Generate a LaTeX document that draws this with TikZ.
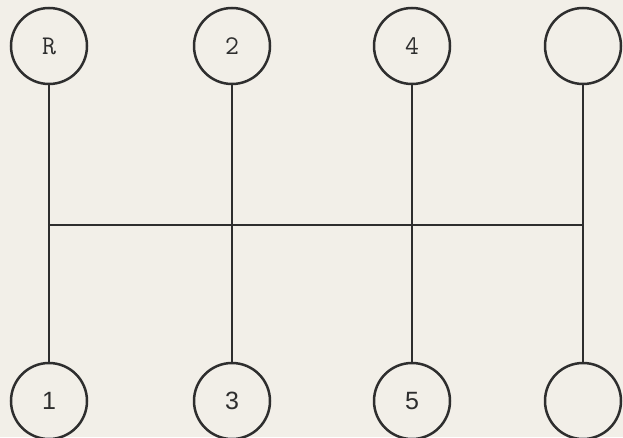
\documentclass[tikz,border=0pt]{standalone}
\usepackage{fontspec}
\setsansfont{Liberation Sans}
\definecolor{paper}{HTML}{F2EFE8}
\definecolor{ink}{HTML}{2E2E2E}
\newcommand{\upfont}{\ttfamily\fontsize{27}{27}\selectfont}
\newcommand{\downfont}{\sffamily\fontsize{25}{25}\selectfont}
\tikzset{
  gear/.style={circle,draw=ink,line width=2.5pt,minimum size=76pt,inner sep=0pt,text=ink},
  gearup/.style={gear,font=\upfont},
  geardown/.style={gear,font=\downfont},
  rail/.style={draw=ink,line width=2.4pt}
}
\begin{document}
\begin{tikzpicture}[x=1pt,y=1pt]
  \fill[paper] (0,0) rectangle (623,437);
  \useasboundingbox (0,0) rectangle (623,437);
  \node[gearup] (r)  at (49,391) {R};
  \node[gearup] (g2) at (232,391) {2};
  \node[gearup] (g4) at (412,391) {4};
  \node[gearup] (g6) at (583,391) {};
  \node[geardown] (g1) at (49,36) {1};
  \node[geardown] (g3) at (232,36) {3};
  \node[geardown] (g5) at (412,36) {5};
  \node[geardown] (g7) at (583,36) {};
  \draw[rail] (r) -- (g1);
  \draw[rail] (g2) -- (g3);
  \draw[rail] (g4) -- (g5);
  \draw[rail] (g6) -- (g7);
  \coordinate (hl) at (49,212);
  \coordinate (hr) at (583,212);
  \draw[rail] (hl) -- (hr);
\end{tikzpicture}
\end{document}
